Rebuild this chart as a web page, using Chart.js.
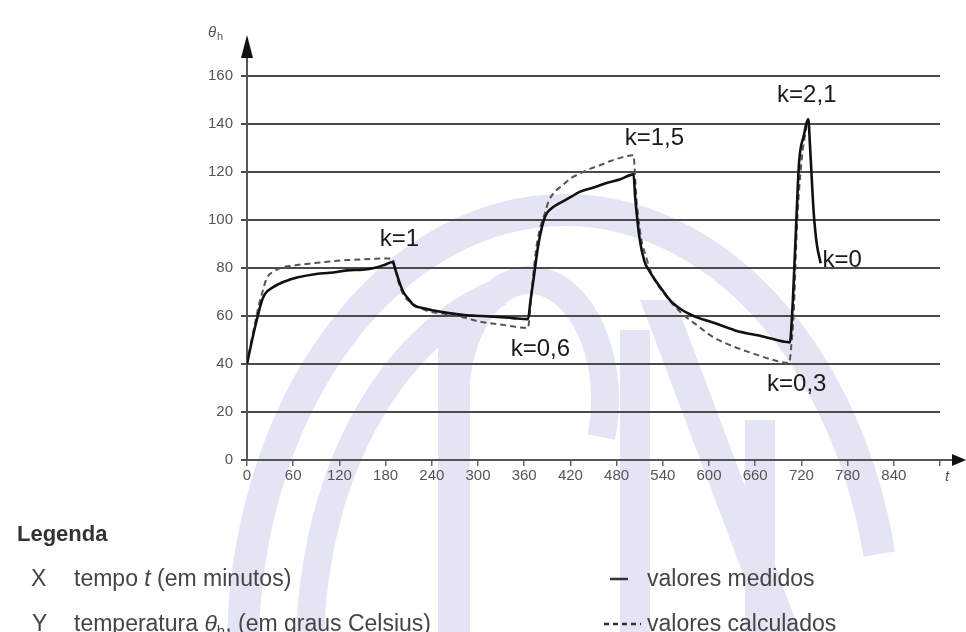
<!DOCTYPE html>
<html>
<head>
<meta charset="utf-8">
<script src="https://cdn.jsdelivr.net/npm/chart.js@4.4.1/dist/chart.umd.min.js"></script>
<style>
  html, body { margin: 0; padding: 0; background: #ffffff; }
  #wrap { width: 966px; height: 632px; }
</style>
</head>
<body>
<div id="wrap"><canvas id="chart" width="966" height="632"></canvas></div>
<script>
// Hot-spot temperature θh versus time t for a cyclic load (k steps)
const tMeasured = [0, 8, 14, 18, 23, 34, 50, 65, 90, 108, 130, 150, 165, 180, 189,
  193, 198, 203, 210, 216, 228, 239, 260, 282, 305, 326, 345, 365,
  368, 372, 378, 383, 388, 396, 406, 420, 432, 450, 467, 485, 502,
  504, 506, 510, 516, 523, 530, 540, 551, 565, 578, 590, 605, 634, 670, 705,
  708, 712, 717, 723, 729,
  731, 733, 736, 740, 745];
const thetaMeasured = [40, 52, 60, 65, 69, 72, 74.5, 76, 77.5, 78, 79, 79.3, 80, 81.5, 82.5,
  79, 74, 70, 67, 64.6, 63.3, 62.5, 61.3, 60.4, 60, 59.6, 59.1, 58.7,
  66, 75, 89, 97, 102, 105, 107, 109.5, 111.7, 113.5, 115.4, 117, 119,
  110, 103, 92, 83, 78.5, 75, 70.5, 66, 62.5, 60.3, 58.8, 57.3, 54, 51.5, 49,
  61, 89, 124, 135, 142,
  132, 120, 103, 90, 82];

const tCalculated = [0, 6, 11, 15, 20, 26, 35, 43, 60, 86, 110, 130, 160, 182, 189,
  191, 196, 203, 216, 235, 255, 280, 303, 335, 365,
  367, 369, 376, 381, 386, 392, 399, 408, 421, 434, 447, 460, 473, 486, 502,
  504, 506, 509, 512, 518, 525, 545, 565, 585, 604, 630, 656, 680, 704,
  707, 710, 714, 720, 727];
const thetaCalculated = [40, 50, 58, 64, 70, 76, 78.5, 80, 81, 82, 82.8, 83.3, 83.7, 84, 84,
  82, 75, 69, 65, 62, 61, 59.5, 57.6, 56.2, 55,
  60, 68, 89, 97, 102, 108, 111.5, 114, 117.5, 119.6, 121.5, 123, 124.7, 126, 127,
  118, 108, 99, 92, 85, 78, 68, 61, 56, 51.5, 47.5, 44.5, 42, 40.4,
  48, 61, 96, 124, 140];

const xTickValues = [0, 60, 120, 180, 240, 300, 360, 420, 480, 540, 600, 660, 720, 780, 840, 900];
const yTickValues = [0, 20, 40, 60, 80, 100, 120, 140, 160];

// load-factor annotations, anchored in (t, θh) units
const kTexts = ['k=1', 'k=0,6', 'k=1,5', 'k=2,1', 'k=0', 'k=0,3'];
const kAnchorT = [198, 381, 529, 727, 773, 714];
const kAnchorTheta = [92, 46, 134, 152, 83, 31.5];

const FONT = '"Liberation Sans", Arial, Helvetica, sans-serif';

function toPoints(xs, ys) { return xs.map((x, i) => ({ x: x, y: ys[i] })); }

// faint logo watermark behind the plot
const watermark = {
  id: 'watermark',
  beforeDraw(chart) {
    const c = chart.ctx;
    c.save();
    c.strokeStyle = 'rgb(227,229,244)';
    c.fillStyle = 'rgb(227,229,244)';
    c.lineCap = 'butt';
    // outer ring
    c.lineWidth = 32;
    c.beginPath();
    c.ellipse(565, 650, 322, 440, 0, Math.PI, Math.PI * 1.93);
    c.stroke();
    // inner ring
    c.lineWidth = 28;
    c.beginPath();
    c.ellipse(565, 650, 255, 370, 0, Math.PI, Math.PI * 1.42);
    c.stroke();
    // letter stem and bowl
    c.fillRect(438, 330, 32, 302);
    c.lineWidth = 28;
    c.beginPath();
    c.ellipse(530, 400, 75, 120, 0, Math.PI * 1.05, Math.PI * 2.1);
    c.stroke();
    // N
    c.fillRect(620, 330, 30, 302);
    c.beginPath();
    c.moveTo(640, 300); c.lineTo(675, 300); c.lineTo(800, 632); c.lineTo(765, 632);
    c.closePath(); c.fill();
    c.fillRect(745, 420, 30, 212);
    c.restore();
  }
};

// axis arrows, axis captions and the key below the plot
const decorations = {
  id: 'decorations',
  afterDraw(chart) {
    const c = chart.ctx;
    const a = chart.chartArea;
    const xs = chart.scales.x, ys = chart.scales.y;
    c.save();
    // extend axes and add arrow heads
    c.strokeStyle = '#555';
    c.fillStyle = '#111';
    c.lineWidth = 2;
    c.beginPath();
    c.moveTo(a.right, a.bottom); c.lineTo(956, a.bottom);
    c.moveTo(a.left, a.top); c.lineTo(a.left, 50);
    c.stroke();
    c.beginPath();
    c.moveTo(966, a.bottom); c.lineTo(952, a.bottom - 6); c.lineTo(952, a.bottom + 6); c.closePath();
    c.fill();
    c.beginPath();
    c.moveTo(a.left, 35); c.lineTo(a.left - 6, 58); c.lineTo(a.left + 6, 58); c.closePath();
    c.fill();

    // axis captions
    c.fillStyle = '#555';
    c.textBaseline = 'alphabetic';
    c.textAlign = 'left';
    c.font = 'italic 15px ' + FONT;
    c.fillText('t', xs.getPixelForValue(900) + 5, 481);
    c.fillText('θ', 208, 37);
    c.font = '11px ' + FONT;
    c.fillText('h', 217, 40);

    // load-factor labels
    c.fillStyle = '#1a1a1a';
    c.font = '24px ' + FONT;
    c.textAlign = 'center';
    c.textBaseline = 'middle';
    kTexts.forEach((txt, i) => {
      c.fillText(txt, xs.getPixelForValue(kAnchorT[i]), ys.getPixelForValue(kAnchorTheta[i]));
    });

    // key
    c.textAlign = 'left';
    c.textBaseline = 'alphabetic';
    c.fillStyle = '#333';
    c.font = 'bold 22px ' + FONT;
    c.fillText('Legenda', 17, 541);
    c.fillStyle = '#444';
    c.font = '23px ' + FONT;
    c.fillText('X', 31, 586);
    c.fillText('Y', 32, 631);
    let x = 74;
    c.fillText('tempo ', x, 586); x += c.measureText('tempo ').width;
    c.font = 'italic 23px ' + FONT;
    c.fillText('t', x, 586); x += c.measureText('t').width;
    c.font = '23px ' + FONT;
    c.fillText(' (em minutos)', x, 586);
    x = 74;
    c.fillText('temperatura ', x, 631); x += c.measureText('temperatura ').width;
    c.font = 'italic 23px ' + FONT;
    c.fillText('θ', x, 631); x += c.measureText('θ').width;
    c.font = '15px ' + FONT;
    c.fillText('h', x, 636); x += c.measureText('h').width;
    c.font = '23px ' + FONT;
    c.fillText(', (em graus Celsius)', x, 631);

    c.strokeStyle = '#333';
    c.lineWidth = 2.5;
    c.beginPath(); c.moveTo(610, 579); c.lineTo(628, 579); c.stroke();
    c.setLineDash([5, 4]);
    c.beginPath(); c.moveTo(604, 624); c.lineTo(641, 624); c.stroke();
    c.setLineDash([]);
    c.fillText('valores medidos', 647, 586);
    c.fillText('valores calculados', 647, 631);
    c.restore();
  }
};

new Chart(document.getElementById('chart'), {
  type: 'scatter',
  data: {
    datasets: [
      {
        label: 'valores medidos',
        data: toPoints(tMeasured, thetaMeasured),
        showLine: true,
        borderColor: '#111',
        borderWidth: 2.6,
        pointRadius: 0,
        cubicInterpolationMode: 'monotone',
        order: 1
      },
      {
        label: 'valores calculados',
        data: toPoints(tCalculated, thetaCalculated),
        showLine: true,
        borderColor: '#555',
        borderWidth: 2,
        borderDash: [6, 4],
        pointRadius: 0,
        cubicInterpolationMode: 'monotone',
        order: 2
      }
    ]
  },
  options: {
    responsive: false,
    animation: false,
    devicePixelRatio: 1,
    layout: { padding: { left: 0, right: 26, top: 76, bottom: 0 } },
    plugins: { legend: { display: false }, tooltip: { enabled: false } },
    scales: {
      x: {
        type: 'linear',
        min: 0,
        max: 900,
        afterBuildTicks(scale) { scale.ticks = xTickValues.map(v => ({ value: v })); },
        afterFit(scale) { scale.height = 172; },
        ticks: {
          autoSkip: false,
          maxRotation: 0,
          padding: 1,
          color: '#555',
          font: { family: FONT, size: 15 },
          callback: v => (v === 900 ? '' : String(v))
        },
        grid: { drawOnChartArea: false, drawTicks: true, tickLength: 6, color: '#666', lineWidth: 1.5 },
        border: { display: true, color: '#555', width: 2 }
      },
      y: {
        type: 'linear',
        min: 0,
        max: 160,
        afterBuildTicks(scale) { scale.ticks = yTickValues.map(v => ({ value: v })); },
        afterFit(scale) { scale.width = 247; },
        ticks: {
          padding: 8,
          color: '#555',
          font: { family: FONT, size: 15 }
        },
        grid: { color: '#4a4a4a', lineWidth: 2, tickLength: 6, drawTicks: true },
        border: { display: true, color: '#555', width: 2 }
      }
    }
  },
  plugins: [watermark, decorations]
});
</script>
</body>
</html>
